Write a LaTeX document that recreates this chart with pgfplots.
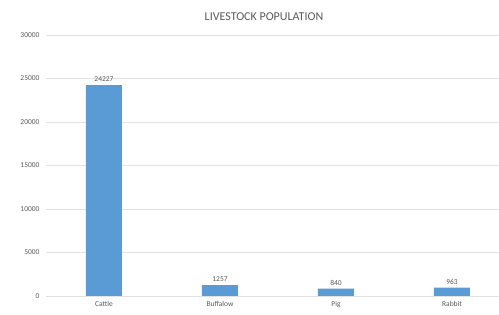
\documentclass[border=0pt]{standalone}
\usepackage{pgfplots}
\pgfplotsset{compat=1.18}
\usepackage{fontspec}
\setmainfont{Carlito}
\definecolor{barblue}{HTML}{5B9BD5}
\definecolor{gridgray}{HTML}{E2E2E2}
\definecolor{txtgray}{HTML}{595959}
\begin{document}
\begin{tikzpicture}[x=1pt,y=1pt]
\useasboundingbox (0,0) rectangle (499,315);
\node[text=txtgray,font=\fontsize{12}{14}\selectfont] at (264,298) {LIVESTOCK POPULATION};
\begin{axis}[
  at={(46pt,19pt)}, anchor=south west,
  scale only axis, width=464pt, height=261pt,
  xmin=-0.5, xmax=3.5, ymin=0, ymax=30000,
  ytick={0,5000,...,30000},
  xtick={0,1,2,3},
  xticklabels={Cattle,Buffalow,Pig,Rabbit},
  axis line style={draw=none},
  ymajorgrids, grid style={gridgray, line width=0.7pt},
  major tick length=0pt,
  tick label style={text=txtgray,font=\fontsize{7.5}{9}\selectfont},
  /pgf/number format/assume math mode=true,
  scaled y ticks=false,
  yticklabel style={/pgf/number format/fixed,/pgf/number format/1000 sep={}, xshift=-3pt},
  xticklabel style={yshift=-2pt},
  ybar, bar width=36pt,
  nodes near coords,
  nodes near coords style={text=txtgray,font=\fontsize{7.5}{9}\selectfont,/pgf/number format/1000 sep={}},
  clip=false,
]
\addplot[fill=barblue, draw=none] coordinates {(0,24227) (1,1257) (2,840) (3,963)};
\end{axis}
\end{tikzpicture}
\end{document}
